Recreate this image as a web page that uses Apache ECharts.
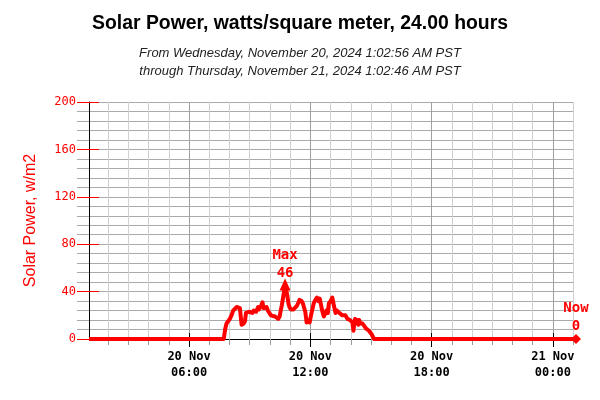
<!DOCTYPE html>
<html><head><meta charset="utf-8">
<script src="https://cdn.jsdelivr.net/npm/echarts@6/dist/echarts.min.js"></script>
<style>html,body{margin:0;padding:0;background:#fff}#c{width:600px;height:400px}</style>
</head><body><div id="c"></div>
<script>
// ---- data ----
const titleText = 'Solar Power, watts/square meter, 24.00 hours';
const subtitleLines = [
  'From Wednesday, November 20, 2024 1:02:56 AM PST',
  'through Thursday, November 21, 2024 1:02:46 AM PST'
];
const yName = 'Solar Power, w/m2';
const startTime = '2024-11-20 01:02:56';
const endTime = '2024-11-21 01:02:46';
const times = [
  '2024-11-20 01:02:56','2024-11-20 07:43','2024-11-20 07:47','2024-11-20 07:51','2024-11-20 07:56',
  '2024-11-20 08:01','2024-11-20 08:06','2024-11-20 08:11','2024-11-20 08:16','2024-11-20 08:21',
  '2024-11-20 08:26','2024-11-20 08:31','2024-11-20 08:36','2024-11-20 08:39','2024-11-20 08:42',
  '2024-11-20 08:46','2024-11-20 08:49','2024-11-20 08:53','2024-11-20 08:58','2024-11-20 09:03',
  '2024-11-20 09:08','2024-11-20 09:12','2024-11-20 09:15','2024-11-20 09:19','2024-11-20 09:22',
  '2024-11-20 09:25','2024-11-20 09:28','2024-11-20 09:30','2024-11-20 09:34','2024-11-20 09:38',
  '2024-11-20 09:40','2024-11-20 09:42','2024-11-20 09:46','2024-11-20 09:50','2024-11-20 09:54',
  '2024-11-20 09:58','2024-11-20 10:03','2024-11-20 10:08','2024-11-20 10:15','2024-11-20 10:20',
  '2024-11-20 10:25','2024-11-20 10:29','2024-11-20 10:32','2024-11-20 10:35','2024-11-20 10:38',
  '2024-11-20 10:42','2024-11-20 10:45','2024-11-20 10:48','2024-11-20 10:52','2024-11-20 10:55',
  '2024-11-20 10:58','2024-11-20 11:02','2024-11-20 11:05','2024-11-20 11:10','2024-11-20 11:15',
  '2024-11-20 11:20','2024-11-20 11:25','2024-11-20 11:28','2024-11-20 11:30','2024-11-20 11:34',
  '2024-11-20 11:38','2024-11-20 11:42','2024-11-20 11:45','2024-11-20 11:49','2024-11-20 11:52',
  '2024-11-20 11:55','2024-11-20 11:58','2024-11-20 12:02','2024-11-20 12:06','2024-11-20 12:10',
  '2024-11-20 12:15','2024-11-20 12:20','2024-11-20 12:24','2024-11-20 12:28','2024-11-20 12:33',
  '2024-11-20 12:36','2024-11-20 12:40','2024-11-20 12:44','2024-11-20 12:48','2024-11-20 12:52',
  '2024-11-20 12:55','2024-11-20 13:00','2024-11-20 13:05','2024-11-20 13:08','2024-11-20 13:10',
  '2024-11-20 13:15','2024-11-20 13:19','2024-11-20 13:22','2024-11-20 13:26','2024-11-20 13:30',
  '2024-11-20 13:35','2024-11-20 13:39','2024-11-20 13:44','2024-11-20 13:50','2024-11-20 13:54',
  '2024-11-20 13:58','2024-11-20 14:02','2024-11-20 14:05','2024-11-20 14:08','2024-11-20 14:10',
  '2024-11-20 14:13','2024-11-20 14:15','2024-11-20 14:18','2024-11-20 14:20','2024-11-20 14:23',
  '2024-11-20 14:25','2024-11-20 14:28','2024-11-20 14:30','2024-11-20 14:35','2024-11-20 14:40',
  '2024-11-20 14:45','2024-11-20 14:50','2024-11-20 14:54','2024-11-20 14:58','2024-11-20 15:02',
  '2024-11-20 15:05','2024-11-20 15:09','2024-11-21 01:02:46'
];
const values = [
  0,0,8,13,15,
  17,20,24,25,27,
  26,26,12,11,13,
  15,22,22,23,22,
  22,24,24,23,25,
  27,25,25,28,31,
  28,26,27,27,24,
  25,20,19,19,18,
  17,19,24,28,33,
  40,46,42,36,30,
  27,25,25,25,26,
  28,31,33,34,32,
  30,26,23,14,15,
  16,14,20,25,30,
  33,35,32,34,27,
  23,19,21,24,22,
  30,32,35,31,28,
  22,24,23,22,21,
  20,19,20,17,17,
  16,15,14,7,12,
  17,13,14,16,12,
  16,13,12,13,11,
  9,10,7,6,4,
  4,0,0
];
const xMajorTicks = ['2024-11-20 06:00','2024-11-20 12:00','2024-11-20 18:00','2024-11-21 00:00'];
const yTicks = [0,40,80,120,160,200];
const maxLabel = 'Max';
const nowLabel = 'Now';

// ---- helpers ----
function parseT(s){
  const m = s.match(/(\d+)-(\d+)-(\d+) (\d+):(\d+)(?::(\d+))?/);
  return new Date(+m[1], +m[2]-1, +m[3], +m[4], +m[5], +(m[6]||0)).getTime();
}
const MONTHS = ['Jan','Feb','Mar','Apr','May','Jun','Jul','Aug','Sep','Oct','Nov','Dec'];
const pad = n => (n<10?'0':'') + n;
const startMs = parseT(startTime), endMs = parseT(endTime);
const pairs = times.map((t,i)=>[parseT(t), values[i]]);
const majorMs = xMajorTicks.map(parseT);
const hourMs = [];
{ const d = new Date(startMs); d.setMinutes(0,0,0); d.setHours(d.getHours()+1);
  while (d.getTime() <= endMs){ hourMs.push(d.getTime()); d.setHours(d.getHours()+1); } }
const lastPt = pairs[pairs.length-1];
const mono = '"DejaVu Sans Mono", monospace';
const sans = '"Liberation Sans", Arial, sans-serif';
const fmtX = v => { const d = new Date(v); return d.getDate() + ' ' + MONTHS[d.getMonth()] + '\n' + pad(d.getHours()) + ':' + pad(d.getMinutes()); };

const chart = echarts.init(document.getElementById('c'), null, {renderer:'canvas'});
chart.setOption({
  animation: false,
  backgroundColor: '#fff',
  title: [
    {text: titleText, left: 'center', top: 9,
     textStyle: {fontFamily: sans, fontSize: 19.4, fontWeight: 'bold', color: '#000'}},
    {text: subtitleLines.join('\n'), left: 'center', top: 39,
     textStyle: {fontFamily: sans, fontSize: 13, fontStyle: 'italic', fontWeight: 'normal', color: '#222', lineHeight: 18, align: 'center'}}
  ],
  grid: {left: 89, right: 26, top: 102, bottom: 61, containLabel: false},
  xAxis: [
    {type: 'value', min: startMs, max: endMs, position: 'bottom', scale: true,
     axisLine: {show: true, onZero: false, lineStyle: {color: '#000', width: 1}},
     axisTick: {show: true, customValues: hourMs, length: 6, lineStyle: {color: '#999'}},
     axisLabel: {show: false, customValues: hourMs},
     splitLine: {show: true, lineStyle: {color: '#d0d0d0', width: 1}}},
    {type: 'value', min: startMs, max: endMs, position: 'bottom', scale: true,
     axisLine: {show: false},
     axisTick: {show: true, customValues: majorMs, length: 8, lineStyle: {color: '#000'}},
     axisLabel: {show: true, customValues: majorMs, formatter: fmtX,
       fontFamily: mono, fontSize: 12, fontWeight: 'bold', color: '#000', lineHeight: 16, margin: 10},
     splitLine: {show: true, lineStyle: {color: '#a0a0a0', width: 1}}},
    {type: 'value', min: startMs, max: endMs, position: 'bottom', scale: true,
     axisLine: {show: false},
     axisTick: {show: true, inside: true, customValues: majorMs, length: 6, lineStyle: {color: '#000'}},
     axisLabel: {show: false, customValues: majorMs}, splitLine: {show: false}}
  ],
  yAxis: [
    {type: 'value', min: yTicks[0], max: yTicks[yTicks.length-1], interval: yTicks[1]-yTicks[0], position: 'left',
     name: yName, nameLocation: 'middle', nameGap: 50, nameRotate: 90,
     nameTextStyle: {color: '#ff0000', fontFamily: sans, fontSize: 16},
     axisLine: {show: true, lineStyle: {color: '#000'}},
     axisTick: {show: true, length: 12, lineStyle: {color: '#ff0000'}},
     axisLabel: {color: '#ff0000', fontFamily: mono, fontSize: 12, margin: 13},
     splitLine: {show: true, lineStyle: {color: '#aaa'}},
     minorTick: {show: true, splitNumber: 5, length: 12, lineStyle: {color: '#aaa'}},
     minorSplitLine: {show: true, lineStyle: {color: '#aaa'}}},
    {type: 'value', min: yTicks[0], max: yTicks[yTicks.length-1], interval: yTicks[1]-yTicks[0], position: 'left',
     axisLine: {show: false},
     axisTick: {show: true, inside: true, length: 10, lineStyle: {color: '#ff0000'}},
     axisLabel: {show: false}, splitLine: {show: false}}
  ],
  series: [{
    type: 'line', xAxisIndex: 0, yAxisIndex: 0, data: pairs,
    showSymbol: false, clip: false, z: 5,
    lineStyle: {color: '#ff0000', width: 4, join: 'round'},
    itemStyle: {color: '#ff0000'},
    markPoint: {
      label: {show: true, position: 'top', color: '#ff0000', fontFamily: mono, fontSize: 14, fontWeight: 'bold', lineHeight: 18, distance: -4},
      itemStyle: {color: '#ff0000'},
      data: [
        {type: 'max', name: maxLabel, symbol: 'triangle', symbolSize: [11, 12],
         label: {formatter: p => maxLabel + '\n' + p.value}},
        {name: nowLabel, coord: lastPt, value: lastPt[1], symbol: 'diamond', symbolSize: [10, 10], symbolOffset: [2, 0],
         label: {formatter: p => nowLabel + '\n' + p.value, distance: -1}}
      ]
    }
  }]
});
</script></body></html>
